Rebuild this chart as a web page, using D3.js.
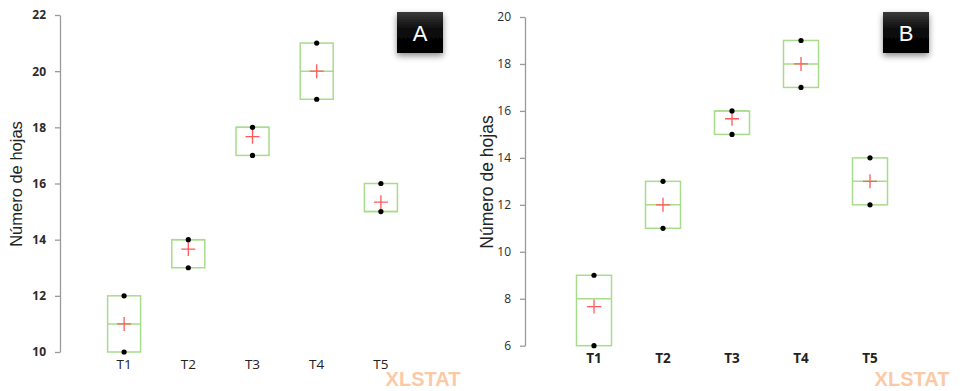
<!DOCTYPE html>
<html>
<head>
<meta charset="utf-8">
<script src="https://cdn.jsdelivr.net/npm/d3@7"></script>
<style>
  body { margin: 0; background: #fff; }
  svg { display: block; }
</style>
</head>
<body>
<svg id="chart" width="960" height="391"></svg>
<script>
// Treatments and leaf counts (three plants per treatment)
const categories = ["T1", "T2", "T3", "T4", "T5"];
const obsA = [[10, 11, 12], [13, 14, 14], [17, 18, 18], [19, 20, 21], [15, 15, 16]];
const obsB = [[6, 8, 9], [11, 12, 13], [15, 16, 16], [17, 18, 19], [12, 13, 14]];
const ticksA = [10, 12, 14, 16, 18, 20, 22];
const ticksB = [6, 8, 10, 12, 14, 16, 18, 20];
const panelLetters = ["A", "B"];
const yTitle = "Número de hojas";

const svg = d3.select("#chart");
const defs = svg.append("defs");

const grad = defs.append("linearGradient").attr("id", "badgeGrad")
  .attr("x1", 0).attr("y1", 0).attr("x2", 0).attr("y2", 1);
grad.append("stop").attr("offset", "0%").attr("stop-color", "#3a3a3a");
grad.append("stop").attr("offset", "45%").attr("stop-color", "#0a0a0a");
grad.append("stop").attr("offset", "100%").attr("stop-color", "#000");

const shadow = defs.append("filter").attr("id", "badgeShadow")
  .attr("x", "-30%").attr("y", "-30%").attr("width", "160%").attr("height", "180%");
shadow.append("feDropShadow").attr("dx", 0).attr("dy", 3).attr("stdDeviation", 3)
  .attr("flood-color", "#000").attr("flood-opacity", 0.45);

const panels = [
  {
    obs: obsA, ticks: ticksA, letter: panelLetters[0],
    axisX: 60, yRange: [352, 15], domain: [10, 22],
    xRange: [92, 413], boxW: 33,
    tickBold: true, catBold: false, catY: 369,
    titleX: 16, titleY: 184, titleSize: 16.5,
    badge: [397, 12, 46, 41], wm: [423, 386]
  },
  {
    obs: obsB, ticks: ticksB, letter: panelLetters[1],
    axisX: 525, yRange: [345.7, 17], domain: [6, 20],
    xRange: [559.5, 904.5], boxW: 35,
    tickBold: false, catBold: true, catY: 363,
    titleX: 487, titleY: 182, titleSize: 17.5,
    badge: [883, 12, 46, 41], wm: [912, 386]
  }
];

panels.forEach(p => {
  const g = svg.append("g");
  const y = d3.scaleLinear().domain(p.domain).range(p.yRange);
  const x = d3.scalePoint().domain(categories).range(p.xRange).padding(0.5);

  // vertical axis
  const ax = g.append("g").attr("transform", `translate(${p.axisX},0)`)
    .call(d3.axisLeft(y).tickValues(p.ticks).tickSize(5).tickSizeOuter(0).tickPadding(9));
  ax.select(".domain").attr("stroke", "#9a9a9a").attr("stroke-width", 1.3);
  ax.selectAll(".tick line").attr("stroke", "#9a9a9a").attr("stroke-width", 1.3);
  ax.selectAll(".tick text")
    .attr("fill", "#2b2b2b")
    .attr("font-family", "'Open Sans', 'Liberation Sans', sans-serif")
    .attr("font-size", 12)
    .attr("font-weight", p.tickBold ? 700 : 400);

  // axis title
  g.append("text")
    .attr("transform", `translate(${p.titleX},${p.titleY}) rotate(-90)`)
    .attr("text-anchor", "middle")
    .attr("dominant-baseline", "central")
    .attr("font-family", "'Liberation Sans', Arial, sans-serif")
    .attr("font-size", p.titleSize)
    .attr("fill", "#222")
    .text(yTitle);

  // category labels
  g.selectAll("text.cat").data(categories).join("text")
    .attr("class", "cat")
    .attr("x", d => x(d))
    .attr("y", p.catY)
    .attr("text-anchor", "middle")
    .attr("font-family", "'Open Sans', 'Liberation Sans', sans-serif")
    .attr("font-size", 13.5)
    .attr("font-weight", p.catBold ? 700 : 400)
    .attr("fill", "#222")
    .text(d => d);

  const stats = p.obs.map((v, i) => {
    const s = v.slice().sort(d3.ascending);
    return {
      cat: categories[i],
      min: d3.min(s), max: d3.max(s),
      median: d3.median(s), mean: d3.mean(s)
    };
  });

  const boxes = g.selectAll("g.box").data(stats).join("g").attr("class", "box");

  boxes.append("rect")
    .attr("x", d => x(d.cat) - p.boxW / 2)
    .attr("y", d => y(d.max))
    .attr("width", p.boxW)
    .attr("height", d => y(d.min) - y(d.max))
    .attr("fill", "none")
    .attr("stroke", "#a8dc8c")
    .attr("stroke-width", 1.5);

  boxes.append("line")
    .attr("x1", d => x(d.cat) - p.boxW / 2)
    .attr("x2", d => x(d.cat) + p.boxW / 2)
    .attr("y1", d => y(d.median))
    .attr("y2", d => y(d.median))
    .attr("stroke", "#a8dc8c")
    .attr("stroke-width", 1.5);

  // mean marker
  const cs = 7;
  boxes.append("path")
    .attr("d", d => {
      const cx = x(d.cat), cy = y(d.mean);
      return `M${cx - cs},${cy}H${cx + cs}M${cx},${cy - cs}V${cy + cs}`;
    })
    .attr("stroke", "#ff5a5a")
    .attr("stroke-width", 1.3)
    .attr("fill", "none");

  // minimum and maximum
  boxes.selectAll("circle").data(d => [d.min, d.max].map(v => ({ cat: d.cat, v })))
    .join("circle")
    .attr("cx", d => x(d.cat))
    .attr("cy", d => y(d.v))
    .attr("r", 2.6)
    .attr("fill", "#000");

  // panel badge
  const [bx, by, bw, bh] = p.badge;
  g.append("rect")
    .attr("x", bx).attr("y", by).attr("width", bw).attr("height", bh)
    .attr("fill", "url(#badgeGrad)")
    .attr("filter", "url(#badgeShadow)");
  g.append("text")
    .attr("x", bx + bw / 2).attr("y", by + bh / 2 + 1)
    .attr("text-anchor", "middle")
    .attr("dominant-baseline", "central")
    .attr("font-family", "'Liberation Sans', Arial, sans-serif")
    .attr("font-size", 22)
    .attr("fill", "#fff")
    .text(p.letter);

  // watermark
  g.append("text")
    .attr("x", p.wm[0]).attr("y", p.wm[1])
    .attr("text-anchor", "middle")
    .attr("font-family", "'Liberation Sans', Arial, sans-serif")
    .attr("font-weight", 700)
    .attr("font-size", 20)
    .attr("fill", "#fbc9a6")
    .text("XLSTAT");
});
</script>
</body>
</html>
